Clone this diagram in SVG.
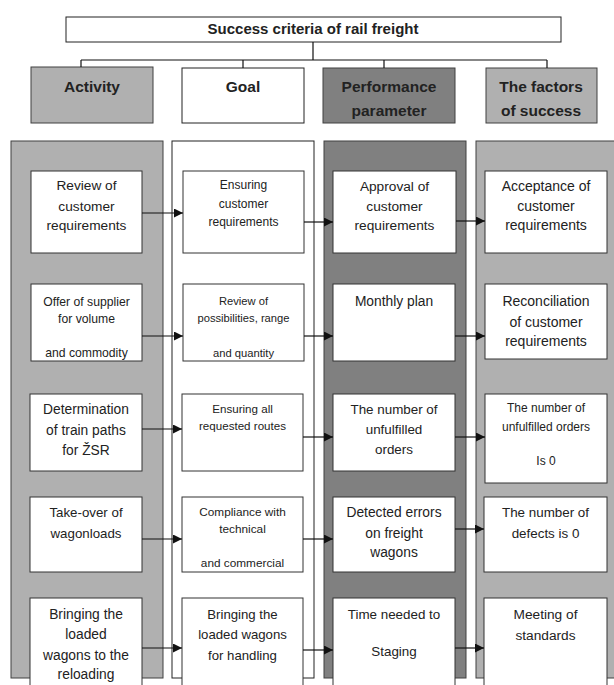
<svg xmlns="http://www.w3.org/2000/svg" width="614" height="685" viewBox="0 0 614 685">
<style>
text{font-family:"Liberation Sans",Arial,sans-serif;fill:#222;text-anchor:middle}
.hd{font-weight:bold;font-size:15.5px}
.ttl{font-weight:bold;font-size:15px}
.box{fill:#fff;stroke:#333;stroke-width:1}
.lg{fill:#b0b0b0;stroke:#404040;stroke-width:1}
.dk{fill:#808080;stroke:#404040;stroke-width:1}
.wh{fill:#fff;stroke:#222;stroke-width:1}
.ln{stroke:#111;stroke-width:1.2;fill:none}
.arr{stroke:#111;stroke-width:1.2;fill:none;marker-end:url(#ah)}
</style>
<defs>
<marker id="ah" viewBox="0 0 10 10" refX="10" refY="5" markerWidth="10" markerHeight="9" markerUnits="userSpaceOnUse" orient="auto">
<path d="M0,0 L10,5 L0,10 Z" fill="#111"/>
</marker>
<clipPath id="c21"><rect x="31" y="284" width="111" height="76.5"/></clipPath>
<clipPath id="c22"><rect x="183" y="284" width="121" height="76.5"/></clipPath>
</defs>
<rect width="614" height="685" fill="#fff"/>

<g id="title">
<rect x="66" y="17" width="495" height="25" class="wh"/>
<text class="ttl" x="313" y="34">Success criteria of rail freight</text>
</g>

<g id="columns">
<rect x="11" y="141" width="152" height="537" class="lg"/>
<rect x="172" y="141" width="142" height="537" class="wh"/>
<rect x="324" y="141" width="142" height="537" class="dk"/>
<rect x="476" y="141" width="150" height="537" class="lg"/>
</g>

<g id="h-activity"><rect x="31" y="67" width="122" height="56" class="lg"/><text class="hd" x="92" y="92">Activity</text></g>
<g id="h-goal"><rect x="182" y="68" width="122" height="55" class="wh"/><text class="hd" x="243" y="92">Goal</text></g>
<g id="h-perf"><rect x="323" y="68" width="132" height="55" class="dk"/><text class="hd" x="389" y="92">Performance</text><text class="hd" x="389" y="116">parameter</text></g>
<g id="h-factors"><rect x="486" y="68" width="111" height="55" class="lg"/><text class="hd" x="541" y="92">The factors</text><text class="hd" x="541" y="116">of success</text></g>

<!-- Row 1 -->
<g id="a1"><rect x="31" y="171" width="111" height="82" class="box"/><g font-size="13.7"><text x="86.5" y="190">Review of</text><text x="86.5" y="211">customer</text><text x="86.5" y="230">requirements</text></g></g>
<g id="g1"><rect x="183" y="171" width="121" height="82" class="box"/><g font-size="12"><text x="243.5" y="189">Ensuring</text><text x="243.5" y="208">customer</text><text x="243.5" y="226">requirements</text></g></g>
<g id="p1"><rect x="333" y="171" width="123" height="82" class="box"/><g font-size="13.7"><text x="394.5" y="191">Approval of</text><text x="394.5" y="211">customer</text><text x="394.5" y="230">requirements</text></g></g>
<g id="f1"><rect x="485" y="171" width="122" height="82" class="box"/><g font-size="14"><text x="546" y="191">Acceptance of</text><text x="546" y="211">customer</text><text x="546" y="230">requirements</text></g></g>

<!-- Row 2 -->
<g id="a2"><rect x="31" y="284" width="111" height="77" class="box"/><g font-size="12.2" clip-path="url(#c21)"><text x="86.5" y="305.5">Offer of supplier</text><text x="86.5" y="322.5">for volume</text><text x="86.5" y="357">and commodity</text></g></g>
<g id="g2"><rect x="183" y="284" width="121" height="77" class="box"/><g font-size="11.2" clip-path="url(#c22)"><text x="243.5" y="305">Review of</text><text x="243.5" y="322">possibilities, range</text><text x="243.5" y="356.5">and quantity</text></g></g>
<g id="p2"><rect x="333" y="284" width="122" height="77" class="box"/><text font-size="13.8" x="394" y="306">Monthly plan</text></g>
<g id="f2"><rect x="485" y="284" width="122" height="75" class="box"/><g font-size="14"><text x="546" y="306">Reconciliation</text><text x="546" y="327">of customer</text><text x="546" y="346">requirements</text></g></g>

<!-- Row 3 -->
<g id="a3"><rect x="30" y="394" width="112" height="77" class="box"/><g font-size="13.8"><text x="86" y="414">Determination</text><text x="86" y="435">of train paths</text><text x="86" y="455">for ŽSR</text></g></g>
<g id="g3"><rect x="182" y="394" width="121" height="77" class="box"/><g font-size="11.6"><text x="242.5" y="413">Ensuring all</text><text x="242.5" y="430">requested routes</text></g></g>
<g id="p3"><rect x="333" y="394" width="122" height="77" class="box"/><g font-size="13.4"><text x="394" y="414">The number of</text><text x="394" y="434">unfulfilled</text><text x="394" y="454">orders</text></g></g>
<g id="f3"><rect x="485" y="394" width="122" height="89" class="box"/><g font-size="12"><text x="546" y="412">The number of</text><text x="546" y="431">unfulfilled orders</text><text x="546" y="465">Is 0</text></g></g>

<!-- Row 4 -->
<g id="a4"><rect x="30" y="497" width="112" height="75" class="box"/><g font-size="13.3"><text x="86" y="517">Take-over of</text><text x="86" y="538">wagonloads</text></g></g>
<g id="g4"><rect x="182" y="497" width="121" height="75" class="box"/><g font-size="11.8"><text x="242.5" y="516">Compliance with</text><text x="242.5" y="533">technical</text><text x="242.5" y="567">and commercial</text></g></g>
<g id="p4"><rect x="333" y="497" width="122" height="75" class="box"/><g font-size="13.8"><text x="394" y="517">Detected errors</text><text x="394" y="538">on freight</text><text x="394" y="557">wagons</text></g></g>
<g id="f4"><rect x="484" y="497" width="123" height="75" class="box"/><g font-size="13.4"><text x="545.5" y="517">The number of</text><text x="545.5" y="538">defects is 0</text></g></g>

<!-- Row 5 -->
<g id="a5"><rect x="30" y="598" width="112" height="95" class="box"/><g font-size="13.8"><text x="86" y="619">Bringing the</text><text x="86" y="639">loaded</text><text x="86" y="660">wagons to the</text><text x="86" y="679">reloading</text></g></g>
<g id="g5"><rect x="182" y="598" width="121" height="95" class="box"/><g font-size="13.2"><text x="242.5" y="619">Bringing the</text><text x="242.5" y="639">loaded wagons</text><text x="242.5" y="660">for handling</text></g></g>
<g id="p5"><rect x="333" y="598" width="122" height="95" class="box"/><g font-size="13.4"><text x="394" y="619">Time needed to</text><text x="394" y="656">Staging</text></g></g>
<g id="f5"><rect x="484" y="598" width="123" height="95" class="box"/><g font-size="13.7"><text x="545.5" y="619">Meeting of</text><text x="545.5" y="640">standards</text></g></g>

<g id="connectors">
<path class="ln" d="M313,42 V60 M81,60 H547 M81,60 V67 M243,60 V68 M384,60 V68 M547,60 V68"/>
<path class="arr" d="M142,213 H183"/>
<path class="arr" d="M304,222 H333"/>
<path class="arr" d="M456,221 H485"/>
<path class="arr" d="M142,336 H183"/>
<path class="arr" d="M304,336 H333"/>
<path class="arr" d="M455,336 H485"/>
<path class="arr" d="M142,429 H182"/>
<path class="arr" d="M303,437 H333"/>
<path class="arr" d="M455,437 H485"/>
<path class="arr" d="M142,539 H182"/>
<path class="arr" d="M303,539 H333"/>
<path class="arr" d="M455,529 H484"/>
<path class="arr" d="M142,648 H182"/>
<path class="arr" d="M303,650 H333"/>
<path class="arr" d="M455,648 H484"/>
</g>
</svg>
